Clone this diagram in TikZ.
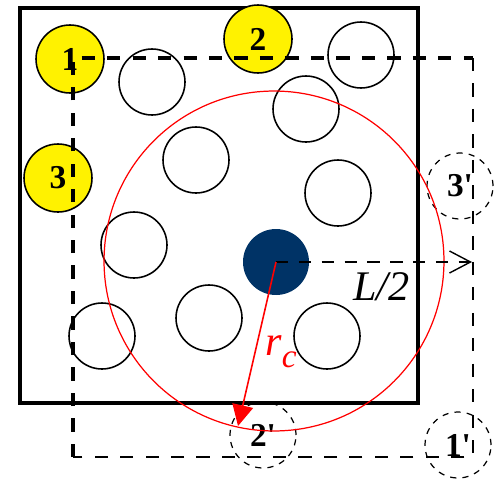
\documentclass[tikz,border=0pt]{standalone}
\usepackage{fontspec}
\setmainfont{Liberation Serif}
\usetikzlibrary{arrows.meta}
\definecolor{ionblue}{RGB}{0,51,102}

\begin{document}
\begin{tikzpicture}[x=0.02cm,y=-0.02cm,
atom/.style={draw,circle,minimum size=1.32cm,inner sep=0pt,line width=0.9pt},
real/.style={atom,fill=yellow,minimum size=1.36cm,font=\fontsize{19}{19}\selectfont\bfseries},
ghost/.style={atom,dash pattern=on 3.5pt off 3.5pt,line width=0.7pt,font=\fontsize{19}{19}\selectfont\bfseries},
cell/.style={line width=2.5pt},
shifted/.style={dash pattern=on 7.5pt off 7pt},
label/.style={font=\fontsize{24}{24}\selectfont\itshape}]
\useasboundingbox (0,0) rectangle (496,480);
\fill[white] (0,0) rectangle (496,480);
\draw[cell] (20,8) rectangle (418,403);
\node[real] (one) at (70,59) {1};
\node[real] (two) at (258,39) {2};
\node[real] (three) at (58,178) {3};
\node[atom] (a1) at (152,82) {};
\node[atom] (a2) at (196,160) {};
\node[atom] (a3) at (361,55) {};
\node[atom] (a4) at (306,109) {};
\node[atom] (a5) at (338,193) {};
\node[atom] (a6) at (134,245) {};
\node[atom] (a7) at (209,318) {};
\node[atom] (a8) at (102,336) {};
\node[atom] (a9) at (327,336) {};
\node[ghost] (oneimg) at (458,445) {1\textquotesingle};
\node[ghost] (twoimg) at (263,435) {2\textquotesingle};
\node[ghost] (threeimg) at (460,186) {3\textquotesingle};
\node[draw=red,circle,minimum size=6.8cm,line width=0.7pt] (cutoff) at (274,261) {};
\draw[shifted,line width=1.8pt] (73,457) -- (73,58) -- (473,58);
\draw[shifted,line width=1.2pt] (473,58) -- (473,457) -- (73,457);
\node[circle,fill=ionblue,minimum size=1.32cm,inner sep=0pt] (ion) at (276,262) {};
\coordinate (half) at (472,262);
\coordinate (rim) at (238,426);
\draw[dash pattern=on 7pt off 6pt,line width=0.7pt,-{Straight Barb[length=0.42cm,width=0.44cm,line width=0.8pt]}] (ion.center) -- (half);
\draw[red,line width=0.9pt,-{Triangle[length=0.42cm,width=0.42cm]}] (ion.center) -- (rim);
\node[label,anchor=base west,inner sep=0pt] (halfL) at (353,300) {L/2};
\node[label,red,anchor=base west,inner sep=0pt] (rc) at (265,355) {r\raisebox{-0.3em}{\fontsize{19}{19}\selectfont c}};
\end{tikzpicture}
\end{document}
